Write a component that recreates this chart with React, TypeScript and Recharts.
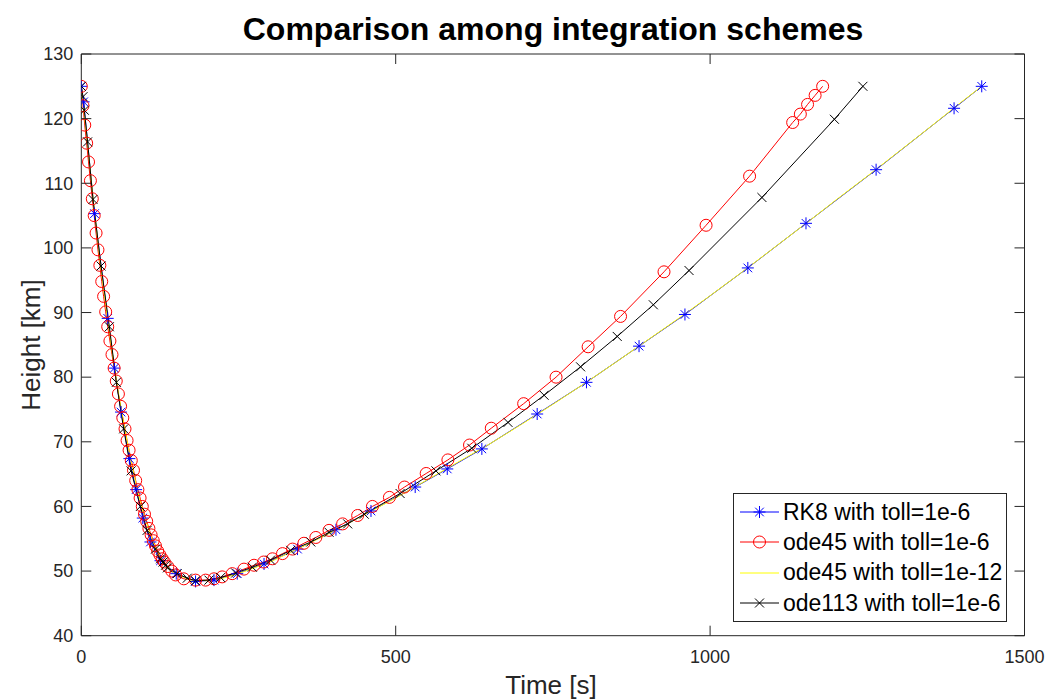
import React from 'react';
import { LineChart, Line, XAxis, YAxis, Legend } from 'recharts';

// RK8, toll 1e-6 (blue asterisks)
const rk8Time = [0, 3.7, 21, 42, 52.6, 63.2, 76.5, 87.2, 97.8, 110, 126, 151, 181.7, 211, 248, 290.6, 343.8, 405, 460.7, 531, 582, 637, 725, 803.4, 887, 960, 1060, 1152.5, 1264, 1388, 1432];
const rk8Height = [125, 122.6, 105.3, 89.1, 81.4, 74.6, 67.4, 62.6, 58.2, 54.5, 51.6, 49.6, 48.4, 48.6, 49.6, 51.1, 53.4, 56.4, 59.3, 63.0, 65.8, 68.9, 74.3, 79.2, 84.8, 89.7, 96.9, 103.8, 112.1, 121.6, 125.0];

// ode45, toll 1e-6 (red circles)
const ode45Time = [0, 2.7, 5.5, 8.5, 11.5, 14.5, 17.5, 20.5, 23.5, 26.5, 29.5, 32.5, 35.5, 38.8, 42, 45.5, 48.8, 52.2, 55.6, 59, 62.5, 66, 69.5, 72.8, 76, 79.5, 83, 86.5, 90, 93.5, 97, 100.5, 104, 107.5, 111, 114.5, 118, 121.5, 125, 128.6, 132, 137.6, 144, 150, 163, 181.7, 197.7, 211, 224, 240, 258.7, 274.7, 290, 304, 320, 336, 354, 373, 394, 415.6, 439.5, 463, 490, 514, 548.5, 583, 617.4, 652, 703.5, 755, 806, 857.6, 926.7, 993.6, 1062.8, 1131.3, 1143.5, 1155, 1167, 1179];
const ode45Height = [125, 122, 119, 116.2, 113.3, 110.4, 107.6, 105, 102.3, 99.7, 97.3, 94.8, 92.5, 90.1, 87.8, 85.6, 83.5, 81.4, 79.4, 77.4, 75.5, 73.7, 72.0, 70.2, 68.7, 67.1, 65.6, 64.0, 62.6, 61.3, 60.0, 58.8, 57.7, 56.6, 55.6, 54.7, 53.9, 53.1, 52.5, 51.9, 51.4, 50.7, 50.0, 49.4, 48.8, 48.6, 48.6, 48.8, 49.1, 49.6, 50.3, 50.9, 51.4, 51.9, 52.7, 53.4, 54.3, 55.2, 56.3, 57.3, 58.6, 60.0, 61.4, 63.0, 65.1, 67.2, 69.5, 72.1, 75.9, 80.0, 84.7, 89.4, 96.3, 103.5, 111.1, 119.4, 120.7, 122.2, 123.6, 125.0];

// ode45, toll 1e-12 (yellow, no markers)
const ode45fineTime = [0, 5, 10, 15, 20, 30, 40, 50, 60, 70, 80, 90, 100, 110, 120, 135, 150, 175, 200, 225, 250, 300, 350, 400, 450, 500, 550, 600, 650, 700, 750, 800, 850, 900, 950, 1000, 1050, 1100, 1150, 1200, 1250, 1300, 1350, 1400, 1432];
const ode45fineHeight = [125, 120.5, 116, 111.3, 106.5, 97.8, 90.3, 83.3, 77, 71.5, 66.6, 62.2, 58.6, 55.6, 53.2, 50.9, 49.5, 48.6, 48.5, 48.9, 49.6, 51.4, 53.7, 56.1, 58.7, 61.3, 64.1, 66.9, 69.7, 72.7, 75.8, 79.0, 82.3, 85.7, 89.1, 92.6, 96.2, 99.9, 103.6, 107.4, 111.1, 114.9, 118.7, 122.6, 125];

// ode113, toll 1e-6 (black crosses)
const ode113Time = [0, 2.7, 4.8, 10, 18.6, 31.4, 44.6, 55.8, 67.4, 79.2, 94, 104.7, 118, 126, 130, 134, 137, 152.5, 168.5, 181.7, 203, 221.6, 245.5, 272, 301, 333, 365, 394, 423.6, 450, 507, 564, 621, 678.6, 736, 794, 852.3, 909.7, 966.5, 1082.4, 1197.7, 1243];
const ode113Height = [125, 123.4, 121.3, 116.4, 107.5, 97.2, 87.8, 79.2, 72.0, 65.5, 60.0, 56.3, 53.4, 51.9, 51.4, 50.9, 50.5, 49.6, 48.9, 48.5, 48.6, 49.0, 49.7, 50.6, 51.7, 53.2, 54.5, 56.0, 57.3, 58.8, 62.0, 65.5, 69.0, 73.0, 77.2, 81.6, 86.3, 91.2, 96.5, 107.8, 119.9, 125];

const xTicks = [0, 500, 1000, 1500];
const yTicks = [40, 50, 60, 70, 80, 90, 100, 110, 120, 130];

const toRows = (t: number[], h: number[]) => t.map((v, i) => ({ t: v, h: h[i] }));

const FONT = '"Liberation Sans", Arial, Helvetica, sans-serif';
const AXIS = '#262626';

const Star = ({ cx, cy, color }: any) => (
  <g stroke={color} strokeWidth={1}>
    <line x1={cx - 6} y1={cy} x2={cx + 6} y2={cy} />
    <line x1={cx} y1={cy - 6} x2={cx} y2={cy + 6} />
    <line x1={cx - 4.3} y1={cy - 4.3} x2={cx + 4.3} y2={cy + 4.3} />
    <line x1={cx - 4.3} y1={cy + 4.3} x2={cx + 4.3} y2={cy - 4.3} />
  </g>
);

const Ring = ({ cx, cy, color }: any) => (
  <circle cx={cx} cy={cy} r={6} fill="none" stroke={color} strokeWidth={1} />
);

const Cross = ({ cx, cy, color }: any) => (
  <g stroke={color} strokeWidth={1}>
    <line x1={cx - 4.5} y1={cy - 4.5} x2={cx + 4.5} y2={cy + 4.5} />
    <line x1={cx - 4.5} y1={cy + 4.5} x2={cx + 4.5} y2={cy - 4.5} />
  </g>
);

const LeftTick = ({ x, y, payload }: any) => (
  <g>
    <line x1={x} y1={y} x2={x + 10} y2={y} stroke={AXIS} />
    <text x={x - 8} y={y} dy="0.35em" textAnchor="end" fontSize={18} fill={AXIS} fontFamily={FONT}>{payload.value}</text>
  </g>
);
const RightTick = ({ x, y }: any) => <line x1={x} y1={y} x2={x - 10} y2={y} stroke={AXIS} />;
const BottomTick = ({ x, y, payload }: any) => (
  <g>
    <line x1={x} y1={y} x2={x} y2={y - 10} stroke={AXIS} />
    <text x={x} y={y + 21} dy="0.35em" textAnchor="middle" fontSize={18} fill={AXIS} fontFamily={FONT}>{payload.value}</text>
  </g>
);
const TopTick = ({ x, y }: any) => <line x1={x} y1={y} x2={x} y2={y + 10} stroke={AXIS} />;

const series = [
  { name: 'RK8 with toll=1e-6', color: '#0000ff', Mark: Star },
  { name: 'ode45 with toll=1e-6', color: '#ff0000', Mark: Ring },
  { name: 'ode45 with toll=1e-12', color: '#ffff00', Mark: null },
  { name: 'ode113 with toll=1e-6', color: '#000000', Mark: Cross },
];

const renderLegend = () => (
  <div style={{ border: `1px solid ${AXIS}`, background: '#fff', padding: '3px 0', width: 274, boxSizing: 'border-box' }}>
    {series.map((s) => (
      <div key={s.name} style={{ display: 'flex', alignItems: 'center', height: 30.3 }}>
        <svg width={46} height={30} style={{ flex: 'none' }}>
          <line x1={6} y1={15} x2={45} y2={15} stroke={s.color} strokeWidth={1} />
          {s.Mark ? <s.Mark cx={25.5} cy={15} color={s.color} /> : null}
        </svg>
        <span style={{ fontFamily: FONT, fontSize: 23, color: '#000', marginLeft: 3, whiteSpace: 'nowrap' }}>{s.name}</span>
      </div>
    ))}
  </div>
);

const dotOf = (Mark: any, color: string) => (p: any) => <Mark key={`m-${p.index}`} cx={p.cx} cy={p.cy} color={color} />;

export default function App() {
  return (
    <div style={{ position: 'absolute', left: 0, top: 0, width: 1046, height: 699, background: '#fff' }}>
      <LineChart width={1046} height={699} margin={{ top: 53, right: 20.5, bottom: 62.3, left: 80.3 }}>
        <XAxis xAxisId="b" dataKey="t" type="number" domain={[0, 1500]} ticks={xTicks} allowDataOverflow
          height={1} tickSize={0} tickMargin={0} tickLine={false} axisLine={{ stroke: AXIS }} tick={<BottomTick />} />
        <XAxis xAxisId="t" dataKey="t" type="number" orientation="top" domain={[0, 1500]} ticks={xTicks} allowDataOverflow
          height={1} tickSize={0} tickMargin={0} tickLine={false} axisLine={{ stroke: AXIS }} tick={<TopTick />} />
        <YAxis yAxisId="l" dataKey="h" type="number" domain={[40, 130]} ticks={yTicks} allowDataOverflow
          width={1} tickSize={0} tickMargin={0} tickLine={false} axisLine={{ stroke: AXIS }} tick={<LeftTick />} />
        <YAxis yAxisId="r" dataKey="h" type="number" orientation="right" domain={[40, 130]} ticks={yTicks} allowDataOverflow
          width={1} tickSize={0} tickMargin={0} tickLine={false} axisLine={{ stroke: AXIS }} tick={<RightTick />} />
        <Line xAxisId="b" yAxisId="l" data={toRows(rk8Time, rk8Height)} dataKey="h" name={series[0].name}
          stroke="#0000ff" strokeWidth={1} dot={dotOf(Star, '#0000ff')} isAnimationActive={false} />
        <Line xAxisId="b" yAxisId="l" data={toRows(ode45Time, ode45Height)} dataKey="h" name={series[1].name}
          stroke="#ff0000" strokeWidth={1} dot={dotOf(Ring, '#ff0000')} isAnimationActive={false} />
        <Line xAxisId="b" yAxisId="l" data={toRows(ode45fineTime, ode45fineHeight)} dataKey="h" name={series[2].name}
          stroke="#ffff00" strokeWidth={1} dot={false} isAnimationActive={false} />
        <Line xAxisId="t" yAxisId="r" data={toRows(ode113Time, ode113Height)} dataKey="h" name={series[3].name}
          stroke="#000000" strokeWidth={1} dot={dotOf(Cross, '#000000')} isAnimationActive={false} />
        <Legend layout="vertical" align="center" verticalAlign="middle" content={renderLegend}
          wrapperStyle={{ left: 733, top: 493, width: 274, height: 125 }} />
      </LineChart>
      <svg width={1046} height={699} style={{ position: 'absolute', left: 0, top: 0, pointerEvents: 'none' }}>
        <text x={553} y={40} textAnchor="middle" fontFamily={FONT} fontWeight="bold" fontSize={32} fill="#000">
          Comparison among integration schemes
        </text>
        <text x={551} y={694} textAnchor="middle" fontFamily={FONT} fontSize={26} fill={AXIS}>Time [s]</text>
        <text transform="translate(40,345) rotate(-90)" textAnchor="middle" fontFamily={FONT} fontSize={26} fill={AXIS}>Height [km]</text>
      </svg>
    </div>
  );
}
